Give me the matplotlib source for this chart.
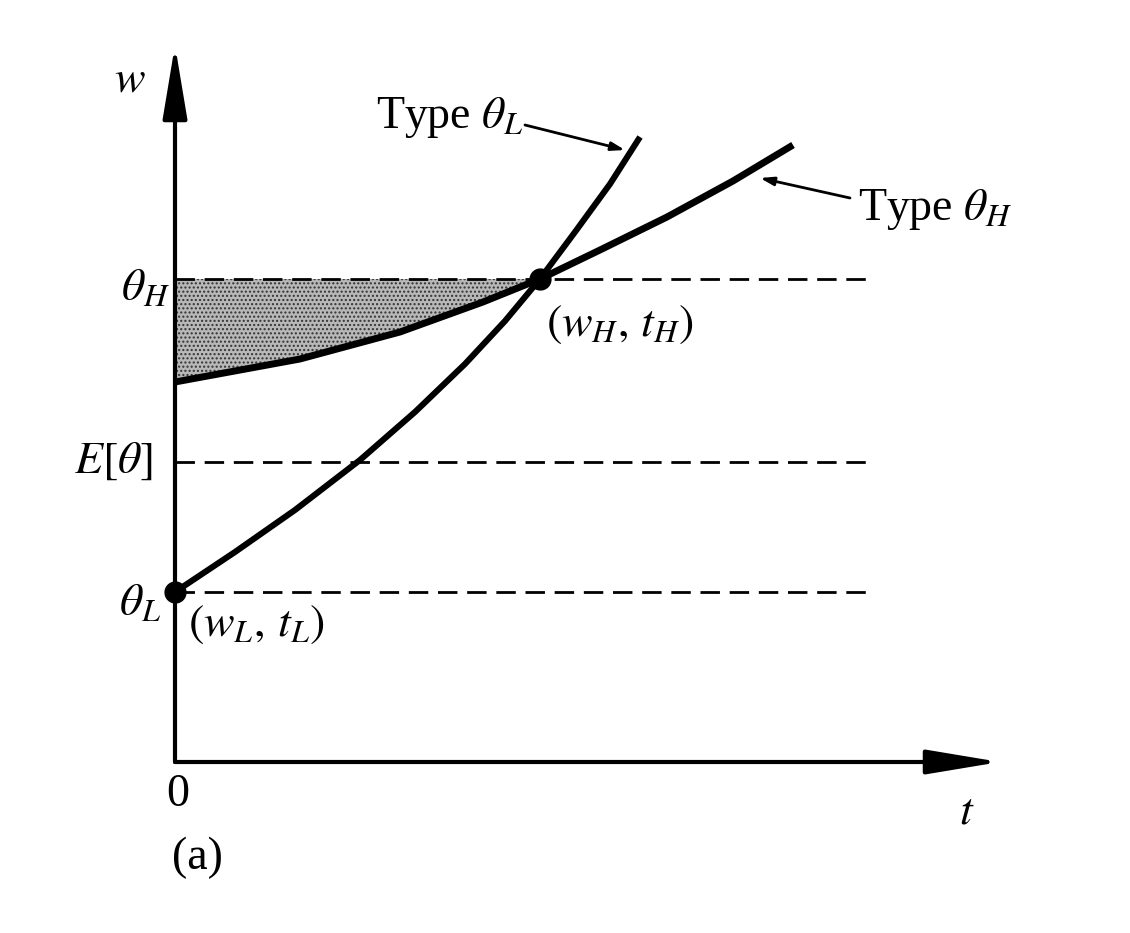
import numpy as np
import matplotlib
matplotlib.use("Agg")
import matplotlib.pyplot as plt

plt.rcParams['font.family'] = ['Liberation Serif', 'DejaVu Serif']
plt.rcParams['mathtext.fontset'] = 'stix'

# levels on the w axis
theta_L = 1.70
E_theta = 3.00
theta_H = 4.83
level_names = [r'$\theta_L$', r'$E[\theta]$', r'$\theta_H$']
levels = [theta_L, E_theta, theta_H]

# indifference curves (t, w)
tL = [0.00, 0.60, 1.20, 1.85, 2.40, 2.90, 3.30, 3.65, 4.00, 4.35, 4.65]
wL = [1.70, 2.10, 2.52, 3.02, 3.50, 3.98, 4.41, 4.83, 5.30, 5.78, 6.25]
tH = [0.00, 1.25, 2.25, 3.08, 3.65, 4.25, 4.92, 5.58, 6.18]
wH = [3.80, 4.03, 4.30, 4.60, 4.83, 5.12, 5.45, 5.81, 6.17]

# contracts
pt_L = (0.00, theta_L)
pt_H = (3.65, theta_H)

fig = plt.figure(figsize=(11.3, 9.33), dpi=100)
ax = fig.add_axes([0, 0, 1, 1])
ax.set_xlim(-1.75, 9.55)
ax.set_ylim(-1.71, 7.62)
ax.axis('off')

# axes with arrows
arr = dict(arrowstyle='-|>,head_length=4.5,head_width=0.75', color='black', lw=3,
           shrinkA=0, shrinkB=0)
ax.annotate('', xy=(8.25, 0), xytext=(0, 0), arrowprops=arr)
ax.annotate('', xy=(0, 7.17), xytext=(0, 0), arrowprops=arr)

# dashed levels
for lv in levels:
    ax.plot([0, 7.0], [lv, lv], color='black', lw=2, ls=(0, (7, 3.5)))

# shaded region between theta_H level and type H curve
n = 4
ax.fill_between(tH[:n + 1], wH[:n + 1], theta_H, facecolor='#b8b8b8',
                edgecolor='#333333', hatch='....', lw=0)

ax.plot(tL, wL, color='black', lw=4.4, solid_capstyle='butt', solid_joinstyle='round')
ax.plot(tH, wH, color='black', lw=5.0, solid_capstyle='butt', solid_joinstyle='round')

ax.plot(*pt_L, 'o', color='black', ms=15, clip_on=False)
ax.plot(*pt_H, 'o', color='black', ms=15)

fs = 33
ax.text(-0.3, theta_H - 0.1, level_names[2], fontsize=fs, ha='center', va='center')
ax.text(-0.62, E_theta, level_names[1], fontsize=fs, ha='center', va='center')
ax.text(-0.35, theta_L - 0.12, level_names[0], fontsize=fs, ha='center', va='center')
ax.text(-0.45, 6.82, r'$w$', fontsize=fs, ha='center', va='center')
ax.text(7.92, -0.5, r'$t$', fontsize=fs, ha='center', va='center')
ax.text(0.03, -0.33, '0', fontsize=fs, ha='center', va='center')
ax.text(0.22, -0.96, '(a)', fontsize=fs, ha='center', va='center')
ax.text(4.45, 4.37, r'$(w_H,\,t_H)$', fontsize=fs, ha='center', va='center')
ax.text(0.82, 1.37, r'$(w_L,\,t_L)$', fontsize=fs, ha='center', va='center')

lab = dict(arrowstyle='-|>,head_length=0.8,head_width=0.25', color='black', lw=2,
           shrinkA=0, shrinkB=0)
ax.text(2.75, 6.44, r'Type $\theta_L$', fontsize=fs, ha='center', va='center')
ax.annotate('', xy=(4.5, 6.12), xytext=(3.5, 6.37), arrowprops=lab)
ax.text(7.6, 5.52, r'Type $\theta_H$', fontsize=fs, ha='center', va='center')
ax.annotate('', xy=(5.85, 5.84), xytext=(6.75, 5.64), arrowprops=lab)

fig.savefig('out.png', dpi=100, facecolor='white')
